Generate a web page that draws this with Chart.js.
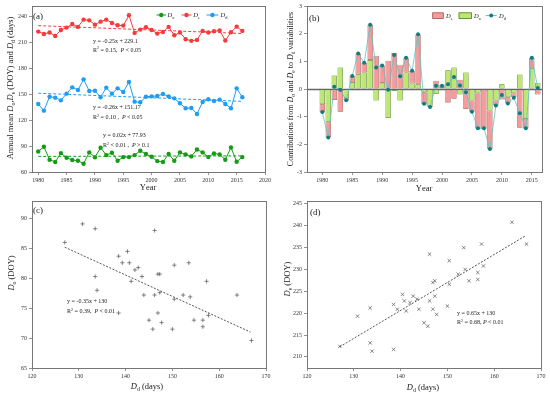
<!DOCTYPE html>
<html>
<head>
<meta charset="utf-8">
<script src="https://cdn.jsdelivr.net/npm/chart.js@4.4.0/dist/chart.umd.min.js"></script>
<style>
  body { margin: 0; background: #fff; }
  #wrap { position: relative; width: 550px; height: 394px; }
  canvas { position: absolute; }
</style>
</head>
<body>
<div id="wrap">
  <canvas id="chartA" width="275" height="195" style="left:0;top:0"></canvas>
  <canvas id="chartB" width="275" height="195" style="left:275px;top:0"></canvas>
  <canvas id="chartC" width="275" height="199" style="left:0;top:195px"></canvas>
  <canvas id="chartD" width="275" height="199" style="left:275px;top:195px"></canvas>
</div>
<script>
// Values, one entry per year 1980-2016
var years = [1980, 1981, 1982, 1983, 1984, 1985, 1986, 1987, 1988, 1989,
  1990, 1991, 1992, 1993, 1994, 1995, 1996, 1997, 1998, 1999,
  2000, 2001, 2002, 2003, 2004, 2005, 2006, 2007, 2008, 2009,
  2010, 2011, 2012, 2013, 2014, 2015, 2016];
var doVals = [83.7, 89.1, 74.2, 71.5, 81.8, 76.5, 73.8, 73.0, 69.6, 82.6,
  76.9, 88.0, 79.5, 82.2, 73.0, 77.2, 77.2, 79.5, 84.5, 80.7,
  77.6, 72.6, 71.5, 80.7, 73.0, 82.6, 80.3, 78.0, 86.0, 82.6,
  77.2, 81.4, 80.3, 74.2, 88.3, 71.9, 77.2];
var deVals = [222.0, 219.3, 220.9, 217.0, 223.9, 226.6, 230.8, 227.4, 235.8, 235.0,
  230.0, 233.5, 235.8, 232.0, 229.3, 228.9, 240.8, 220.5, 224.3, 227.0,
  223.9, 219.7, 221.6, 227.4, 217.8, 220.9, 213.2, 211.3, 212.4, 222.8,
  220.9, 222.4, 223.2, 211.7, 221.2, 227.7, 222.8];
var ddVals = [138.5, 130.8, 146.9, 145.8, 142.7, 150.4, 157.7, 154.6, 166.9, 153.5,
  153.8, 146.2, 157.3, 150.4, 156.5, 152.3, 163.8, 141.2, 140.4, 146.9,
  147.3, 147.7, 150.0, 147.3, 145.0, 139.3, 133.5, 133.9, 127.0, 140.8,
  143.9, 142.0, 143.5, 138.5, 133.5, 156.5, 146.2];

// Trend line end points (a)
var trendYears = [1980, 2016];
var doTrend = [78.0, 78.6];
var deTrend = [228.9, 219.8];
var ddTrend = [150.9, 141.5];

// Contributions (b)
var contribDo = [-0.55, -1.18, 0.49, 0.78, -0.33, 0.25, 0.53, 0.60, 1.05, -0.42,
  0.22, -1.05, -0.07, -0.42, 0.60, 0.20, 0.17, -0.12, -0.60, -0.18,
  0.04, 0.68, 0.78, -0.20, 0.60, -0.42, -0.15, 0.02, -0.78, -0.42,
  0.17, -0.30, -0.15, 0.52, -1.08, 0.75, 0.22];
var contribDe = [-0.30, -0.57, -0.40, -0.82, -0.08, 0.22, 0.75, 0.35, 1.27, 1.20,
  0.62, 1.02, 1.30, 0.88, 0.53, 0.45, 1.81, -0.43, -0.05, 0.30,
  0.08, -0.50, -0.35, 0.33, -0.72, -0.40, -1.27, -1.44, -1.39, -0.18,
  -0.38, -0.22, -0.15, -1.40, -0.34, 0.37, -0.20];
var contribDd = [-0.83, -1.75, 0.08, -0.03, -0.41, 0.47, 1.28, 0.95, 2.32, 0.78,
  0.85, -0.03, 1.23, 0.46, 1.13, 0.66, 1.98, -0.53, -0.65, 0.12,
  0.12, 0.17, 0.43, 0.13, -0.12, -0.82, -1.42, -1.42, -2.17, -0.60,
  -0.22, -0.52, -0.32, -0.88, -1.42, 1.13, 0.04];

// Regression line end points (c), (d)
var ddFit = [127.0, 166.7];
var doFit = [85.2, 71.0];
var deFit = [212.3, 237.7];

// Tick labels
var aXTicks = [1980, 1985, 1990, 1995, 2000, 2005, 2010, 2015, 2020];
var aYTicks = [60, 90, 120, 150, 180, 210, 240];
var bXTicks = [1980, 1985, 1990, 1995, 2000, 2005, 2010, 2015];
var bYTicks = [-3, -2, -1, 0, 1, 2, 3];
var cdXTicks = [120, 130, 140, 150, 160, 170];
var cYTicks = [65, 70, 75, 80, 85, 90];
var dYTicks = [210, 215, 220, 225, 230, 235, 240, 245];

var SERIF = '"Liberation Serif", "Times New Roman", serif';
var RED = '#f43c3c', BLUE = '#1f9df3', GREEN = '#179a17';
var DE_FILL = '#f69b9b', DE_EDGE = '#a44c4c';
var DO_FILL = '#bde86f', DO_EDGE = '#4d7a1c';
var TEAL_LINE = '#5cc3c3', TEAL_DOT = '#0a7f80';

function pts(xs, ys) {
  return xs.map(function (x, i) { return { x: x, y: ys[i] }; });
}

// '*' toggles italic, '_c' subscript char, '^c' superscript char
function parseRich(str) {
  var out = [], it = false, i = 0;
  while (i < str.length) {
    var c = str[i];
    if (c === '*') { it = !it; i++; continue; }
    if (c === '_' || c === '^') { out.push({ t: str[i + 1], it: false, mode: c }); i += 2; continue; }
    out.push({ t: c, it: it, mode: '' });
    i++;
  }
  return out;
}

function fontFor(s, size) {
  return (s.it ? 'italic ' : '') + (s.mode ? size * 0.68 : size) + 'px ' + SERIF;
}

function drawRich(ctx, str, x, y, size, align, rotate) {
  var segs = parseRich(str);
  ctx.save();
  ctx.translate(x, y);
  if (rotate) ctx.rotate(-Math.PI / 2);
  ctx.textBaseline = 'alphabetic';
  ctx.textAlign = 'left';
  ctx.fillStyle = '#222';
  var w = 0;
  segs.forEach(function (s) { ctx.font = fontFor(s, size); w += ctx.measureText(s.t).width; });
  var cx = align === 'center' ? -w / 2 : 0;
  var base = size * 0.35;
  segs.forEach(function (s) {
    ctx.font = fontFor(s, size);
    var dy = s.mode === '_' ? size * 0.28 : (s.mode === '^' ? -size * 0.38 : 0);
    ctx.fillText(s.t, cx, base + dy);
    cx += ctx.measureText(s.t).width;
  });
  ctx.restore();
}

function legendLine(ctx, x1, x2, y, lineColor, dotColor, r) {
  ctx.save();
  ctx.strokeStyle = lineColor;
  ctx.lineWidth = 1;
  ctx.beginPath(); ctx.moveTo(x1, y); ctx.lineTo(x2, y); ctx.stroke();
  ctx.fillStyle = dotColor;
  ctx.beginPath(); ctx.arc((x1 + x2) / 2, y, r, 0, Math.PI * 2); ctx.fill();
  ctx.restore();
}

function legendBox(ctx, x, y, w, h, fill, stroke) {
  ctx.save();
  ctx.fillStyle = fill;
  ctx.fillRect(x, y, w, h);
  ctx.strokeStyle = stroke;
  ctx.lineWidth = 0.8;
  ctx.strokeRect(x, y, w, h);
  ctx.restore();
}

// Linear axis with fixed ticks and fixed thickness
function scale(min, max, tickVals, fitSize, isX) {
  return {
    type: 'linear',
    min: min,
    max: max,
    offset: false,
    afterBuildTicks: function (s) {
      s.ticks = tickVals.map(function (v) { return { value: v }; });
    },
    afterFit: function (s) {
      if (isX) s.height = fitSize; else s.width = fitSize;
    },
    grid: { drawOnChartArea: false, offset: false, tickLength: 3, color: '#777', lineWidth: 0.8 },
    border: { display: false },
    ticks: {
      color: '#333',
      font: { family: SERIF, size: 6 },
      padding: 2,
      maxRotation: 0,
      autoSkip: false,
      callback: function (v) { return String(v); }
    }
  };
}

// Grey frame round the plot area
var framePlugin = {
  id: 'frame',
  afterDraw: function (chart) {
    var a = chart.chartArea, ctx = chart.ctx;
    ctx.save();
    ctx.strokeStyle = '#777';
    ctx.lineWidth = 1;
    ctx.strokeRect(Math.round(a.left) + 0.5, Math.round(a.top) + 0.5,
      Math.round(a.right - a.left), Math.round(a.bottom - a.top));
    ctx.restore();
  }
};

var baseOptions = function (padding, xScale, yScale) {
  return {
    responsive: false,
    animation: false,
    layout: { padding: padding },
    plugins: { legend: { display: false }, tooltip: { enabled: false } },
    scales: { x: xScale, y: yScale }
  };
};

function series(vals, color) {
  return {
    data: pts(years, vals),
    borderColor: color,
    backgroundColor: color,
    borderWidth: 1,
    pointRadius: 2.2,
    pointBorderWidth: 0,
    pointBackgroundColor: color,
    tension: 0
  };
}

function trend(xs, vals, color, dash) {
  return {
    data: pts(xs, vals),
    borderColor: color,
    borderWidth: 1,
    borderDash: dash,
    pointRadius: 0,
    showLine: true,
    fill: false
  };
}

// (a) annual series
new Chart(document.getElementById('chartA'), {
  type: 'line',
  data: {
    datasets: [
      trend(trendYears, doTrend, GREEN, [3, 2]),
      trend(trendYears, deTrend, RED, [3, 2]),
      trend(trendYears, ddTrend, BLUE, [3, 2]),
      series(doVals, GREEN),
      series(deVals, RED),
      series(ddVals, BLUE)
    ]
  },
  options: baseOptions({ top: 5, right: 10, left: 0, bottom: 0 },
    scale(1978.9, 2020, aXTicks, 23, true),
    scale(60, 252, aYTicks, 32, false)),
  plugins: [framePlugin, {
    id: 'textA',
    afterDraw: function (chart) {
      var ctx = chart.ctx;
      drawRich(ctx, 'Annual mean *D*_o,*D*_e (DOY) and *D*_d (days)', 10, 88, 8.5, 'center', true);
      drawRich(ctx, 'Year', 148, 187, 8.5, 'center');
      drawRich(ctx, '(a)', 33, 16, 9, 'left');
      legendLine(ctx, 156.5, 166, 15, GREEN, GREEN, 2.2);
      drawRich(ctx, '*D*_o', 167.5, 15, 6.5, 'left');
      legendLine(ctx, 181.5, 191.5, 15, RED, RED, 2.2);
      drawRich(ctx, '*D*_e', 193.3, 15, 6.5, 'left');
      legendLine(ctx, 206.5, 218.3, 15, BLUE, BLUE, 2.2);
      drawRich(ctx, '*D*_d', 220.5, 15, 6.5, 'left');
      drawRich(ctx, 'y = -0.25x + 229.1', 93, 41, 6, 'left');
      drawRich(ctx, 'R^2 = 0.15,  *P* < 0.05', 93, 49.5, 6, 'left');
      drawRich(ctx, 'y = -0.26x + 151.17', 93, 107, 6, 'left');
      drawRich(ctx, 'R^2 = 0.10 ,  *P* < 0.05', 93, 117, 6, 'left');
      drawRich(ctx, 'y = 0.02x + 77.93', 103, 135, 6, 'left');
      drawRich(ctx, 'R^2 < 0.01 ,  *P* > 0.1', 103, 145, 6, 'left');
    }
  }]
});

// (b) contributions
var bX = scale(1977.45, 2016.7, bXTicks, 23, true);
bX.stacked = true;
var bY = scale(-3, 3, bYTicks, 32, false);
bY.stacked = true;

new Chart(document.getElementById('chartB'), {
  type: 'bar',
  data: {
    datasets: [
      {
        type: 'line',
        data: pts(years, contribDd),
        stack: 'dd',
        borderColor: TEAL_LINE,
        borderWidth: 0.8,
        pointRadius: 2,
        pointBorderWidth: 0,
        pointBackgroundColor: TEAL_DOT,
        tension: 0
      },
      {
        data: pts(years, contribDo),
        stack: 'c',
        backgroundColor: DO_FILL,
        borderColor: DO_EDGE,
        borderWidth: 0.7,
        borderSkipped: false,
        barPercentage: 0.9,
        categoryPercentage: 1
      },
      {
        data: pts(years, contribDe),
        stack: 'c',
        backgroundColor: DE_FILL,
        borderColor: DE_EDGE,
        borderWidth: 0.7,
        borderSkipped: false,
        barPercentage: 0.9,
        categoryPercentage: 1
      }
    ]
  },
  options: baseOptions({ top: 6, right: 8, left: 0, bottom: 0 }, bX, bY),
  plugins: [framePlugin, {
    id: 'zeroLine',
    beforeDatasetsDraw: function (chart) {
      var ctx = chart.ctx, a = chart.chartArea;
      var y0 = Math.round(chart.scales.y.getPixelForValue(0)) + 0.5;
      ctx.save();
      ctx.strokeStyle = '#666';
      ctx.lineWidth = 1.3;
      ctx.beginPath(); ctx.moveTo(a.left, y0); ctx.lineTo(a.right, y0); ctx.stroke();
      ctx.restore();
    }
  }, {
    id: 'textB',
    afterDraw: function (chart) {
      var ctx = chart.ctx;
      drawRich(ctx, 'Contributions from *D*_o and *D*_e to *D*_d variabilities', 15, 89, 8, 'center', true);
      drawRich(ctx, 'Year', 149, 188, 8.5, 'center');
      drawRich(ctx, '(b)', 34, 18, 9, 'left');
      legendBox(ctx, 157.7, 12.8, 10.6, 5.7, DE_FILL, DE_EDGE);
      drawRich(ctx, '*D*_e', 171, 15.6, 6.5, 'left');
      legendBox(ctx, 184, 12.8, 12.5, 5.7, DO_FILL, DO_EDGE);
      drawRich(ctx, '*D*_o', 199, 15.6, 6.5, 'left');
      legendLine(ctx, 210.7, 221.7, 15.6, TEAL_LINE, TEAL_DOT, 2);
      drawRich(ctx, '*D*_d', 224, 15.6, 6.5, 'left');
    }
  }]
});

// (c) Do vs Dd
new Chart(document.getElementById('chartC'), {
  type: 'scatter',
  data: {
    datasets: [
      {
        data: pts(ddVals, doVals),
        pointStyle: 'cross',
        pointRadius: 2.1,
        pointBorderColor: '#555',
        pointBorderWidth: 0.7,
        showLine: false
      },
      trend(ddFit, doFit, '#555', [2, 1.5])
    ]
  },
  options: baseOptions({ top: 4, right: 9, left: 0, bottom: 0 },
    scale(120, 170, cdXTicks, 26, true),
    scale(65, 93, cYTicks, 32, false)),
  plugins: [framePlugin, {
    id: 'textC',
    afterDraw: function (chart) {
      var ctx = chart.ctx;
      drawRich(ctx, '*D*_o (DOY)', 11, 78, 8.5, 'center', true);
      drawRich(ctx, '*D*_d (days)', 147, 191, 8.5, 'center');
      drawRich(ctx, '(c)', 33, 15, 9, 'left');
      drawRich(ctx, 'y = -0.35x + 130', 67, 106, 6, 'left');
      drawRich(ctx, 'R^2 = 0.39,  *P* < 0.01', 67, 116, 6, 'left');
    }
  }]
});

// (d) De vs Dd
new Chart(document.getElementById('chartD'), {
  type: 'scatter',
  data: {
    datasets: [
      {
        data: pts(ddVals, deVals),
        pointStyle: 'crossRot',
        pointRadius: 2.4,
        pointBorderColor: '#555',
        pointBorderWidth: 0.7,
        showLine: false
      },
      trend(ddFit, deFit, '#555', [2, 1.5])
    ]
  },
  options: baseOptions({ top: 4, right: 9, left: 0, bottom: 0 },
    scale(120, 170, cdXTicks, 26, true),
    scale(207.45, 245.75, dYTicks, 32, false)),
  plugins: [framePlugin, {
    id: 'textD',
    afterDraw: function (chart) {
      var ctx = chart.ctx;
      drawRich(ctx, '*D*_e (DOY)', 12, 84, 8.5, 'center', true);
      drawRich(ctx, '*D*_d (days)', 148, 192, 8.5, 'center');
      drawRich(ctx, '(d)', 35, 17, 9, 'left');
      drawRich(ctx, 'y = 0.65x + 130', 182, 118, 6, 'left');
      drawRich(ctx, 'R^2 = 0.68, *P* < 0.01', 182, 127, 6, 'left');
    }
  }]
});
</script>
</body>
</html>
